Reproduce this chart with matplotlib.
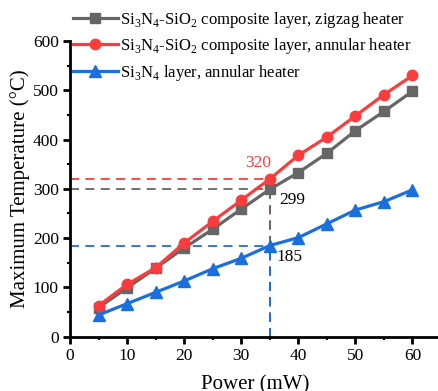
import matplotlib
matplotlib.use("Agg")
import matplotlib.pyplot as plt
from matplotlib.ticker import MultipleLocator

plt.rcParams['font.family'] = ['Liberation Serif', 'DejaVu Serif']
plt.rcParams['mathtext.fontset'] = 'custom'
plt.rcParams['mathtext.rm'] = 'Liberation Serif'

power = [5, 10, 15, 20, 25, 30, 35, 40, 45, 50, 55, 60]
zigzag = [59, 99, 139, 180, 218, 259, 299, 333, 372, 418, 457, 498]
annular = [63, 106, 140, 190, 234, 277, 320, 368, 405, 448, 491, 530]
si3n4 = [44, 67, 90, 113, 138, 159, 185, 201, 229, 257, 274, 298]

labels = [r"Si$_3$N$_4$-SiO$_2$ composite layer, zigzag heater",
          r"Si$_3$N$_4$-SiO$_2$ composite layer, annular heater",
          r"Si$_3$N$_4$ layer, annular heater"]
mark_x = 35
mark_vals = [320, 299, 185]
mark_texts = ["320", "299", "185"]

c_gray = '#666666'
c_red = '#fa3c3c'
c_blue = '#1a6fdc'

fig = plt.figure(figsize=(4.39, 3.91), dpi=100)
ax = fig.add_axes([70/439, (391-336.7)/391, (441-70)/439, (336.7-41)/391])

# dashed guide lines
dash = (0, (5, 3.5))
for v, c in zip(mark_vals, [c_red, c_gray, c_blue]):
    ax.plot([0, mark_x], [v, v], color=c, lw=1.3, ls=dash, zorder=1)
for v, c in zip(mark_vals, [c_red, c_gray, c_blue]):
    ax.plot([mark_x, mark_x], [0, v], color=c, lw=1.3, ls=dash, zorder=1)

l1, = ax.plot(power, zigzag, color=c_gray, lw=2.3, marker='s', ms=7, zorder=3)
l2, = ax.plot(power, annular, color=c_red, lw=2.3, marker='o', ms=7.5, zorder=4)
l3, = ax.plot(power, si3n4, color=c_blue, lw=2.3, marker='^', ms=8, zorder=3)

ax.text(32.9, 352, mark_texts[0], color=c_red, fontsize=12.5, ha='center', va='center')
ax.text(38.9, 277, mark_texts[1], color='black', fontsize=12.5, ha='center', va='center')
ax.text(38.5, 162, mark_texts[2], color='black', fontsize=12.5, ha='center', va='center')

ax.set_xlim(0, 65)
ax.set_ylim(0, 600)
ax.xaxis.set_major_locator(MultipleLocator(10))
ax.xaxis.set_minor_locator(MultipleLocator(5))
ax.yaxis.set_major_locator(MultipleLocator(100))
ax.yaxis.set_minor_locator(MultipleLocator(50))
for s in ['top', 'right']:
    ax.spines[s].set_visible(False)
for s in ['left', 'bottom']:
    ax.spines[s].set_linewidth(2)
ax.tick_params(which='major', direction='out', length=5, width=2, labelsize=12.5, pad=3)
ax.tick_params(which='minor', direction='out', length=2.5, width=1.5)
ax.set_xlabel("Power (mW)", fontsize=15, labelpad=8)
ax.set_ylabel("Maximum Temperature (°C)", fontsize=15, labelpad=2)

fig.legend([l1, l2, l3], labels, loc='upper left', bbox_to_anchor=(73/439, 1 - 10/391),
           frameon=False, fontsize=12, handlelength=2.7, handletextpad=0.15,
           labelspacing=0.38, borderaxespad=0, borderpad=0)

fig.savefig("out.png", dpi=100)
